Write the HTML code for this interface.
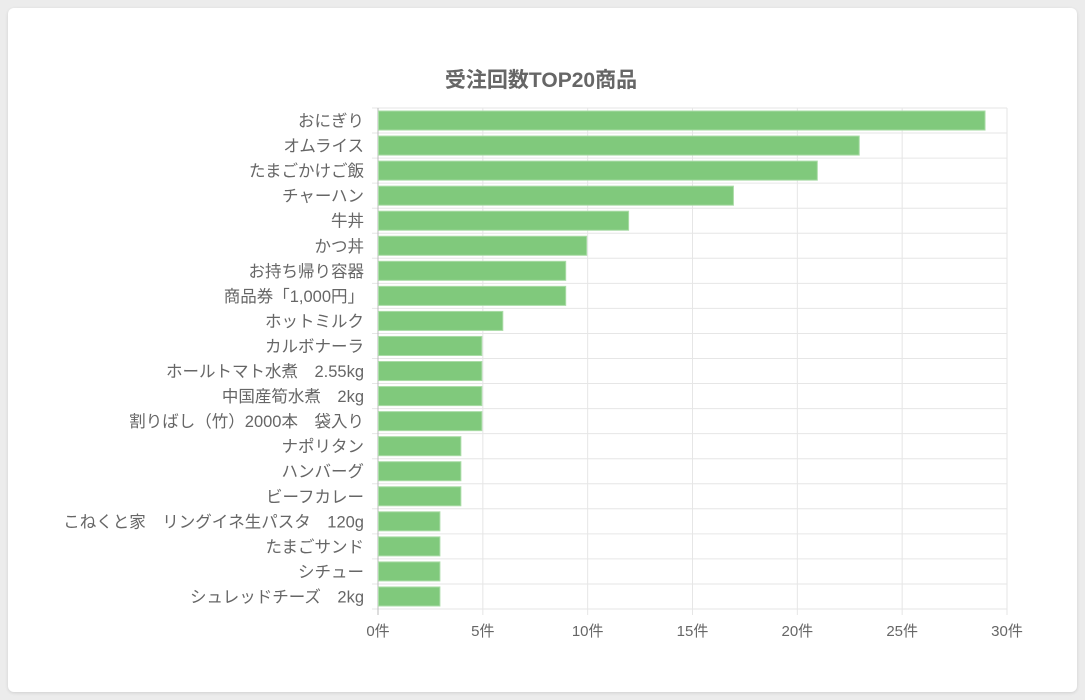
<!DOCTYPE html>
<html><head><meta charset="utf-8"><style>
body{margin:0;background:#ececec;width:1085px;height:700px;overflow:hidden}
.card{position:absolute;left:8px;top:8px;width:1069px;height:684px;background:#fff;border-radius:6px;box-shadow:0 1px 3px rgba(0,0,0,.12)}
svg{position:absolute;left:0;top:0}
text{font-family:"Liberation Sans","Noto Sans CJK JP",sans-serif;fill:#666}
</style></head><body><div class="card"></div>
<svg width="1085" height="700" id="s"></svg>
<script>
(function(){
var names=["おにぎり","オムライス","たまごかけご飯","チャーハン","牛丼","かつ丼","お持ち帰り容器","商品券「1,000円」","ホットミルク","カルボナーラ","ホールトマト水煮　2.55kg","中国産筍水煮　2kg","割りばし（竹）2000本　袋入り","ナポリタン","ハンバーグ","ビーフカレー","こねくと家　リングイネ生パスタ　120g","たまごサンド","シチュー","シュレッドチーズ　2kg"];
var vals=[29,23,21,17,12,10,9,9,6,5,5,5,5,4,4,4,3,3,3,3];
var x0=378,x1=1007,T=108,rh=25.05,sc=(x1-x0)/30;
var h='<text x="541" y="87" text-anchor="middle" style="font-size:21px;font-weight:bold">受注回数TOP20商品</text>';
for(var i=0;i<=20;i++){var y=T+i*rh;h+='<line x1="'+(x0-6)+'" x2="'+x1+'" y1="'+y+'" y2="'+y+'" stroke="#e6e6e6"/>';}
for(var k=0;k<=6;k++){var x=x0+k*5*sc;h+='<line x1="'+x+'" x2="'+x+'" y1="'+T+'" y2="'+(T+20*rh+6)+'" stroke="'+(k?'#e6e6e6':'#bbb')+'"/>';h+='<text x="'+x+'" y="636" text-anchor="middle" style="font-size:15px">'+(k*5)+'件</text>';}
for(var j=0;j<names.length;j++){var yy=T+j*rh;h+='<rect x="'+(x0+0.5)+'" y="'+(yy+3)+'" width="'+(vals[j]*sc-1.5)+'" height="'+(rh-6)+'" fill="#80c97c" stroke="#aadca7" stroke-width="1"/>';h+='<text x="364" y="'+(yy+rh/2+6)+'" text-anchor="end" style="font-size:16.5px">'+names[j]+'</text>';}
document.getElementById('s').innerHTML=h;
})();
</script></body></html>
